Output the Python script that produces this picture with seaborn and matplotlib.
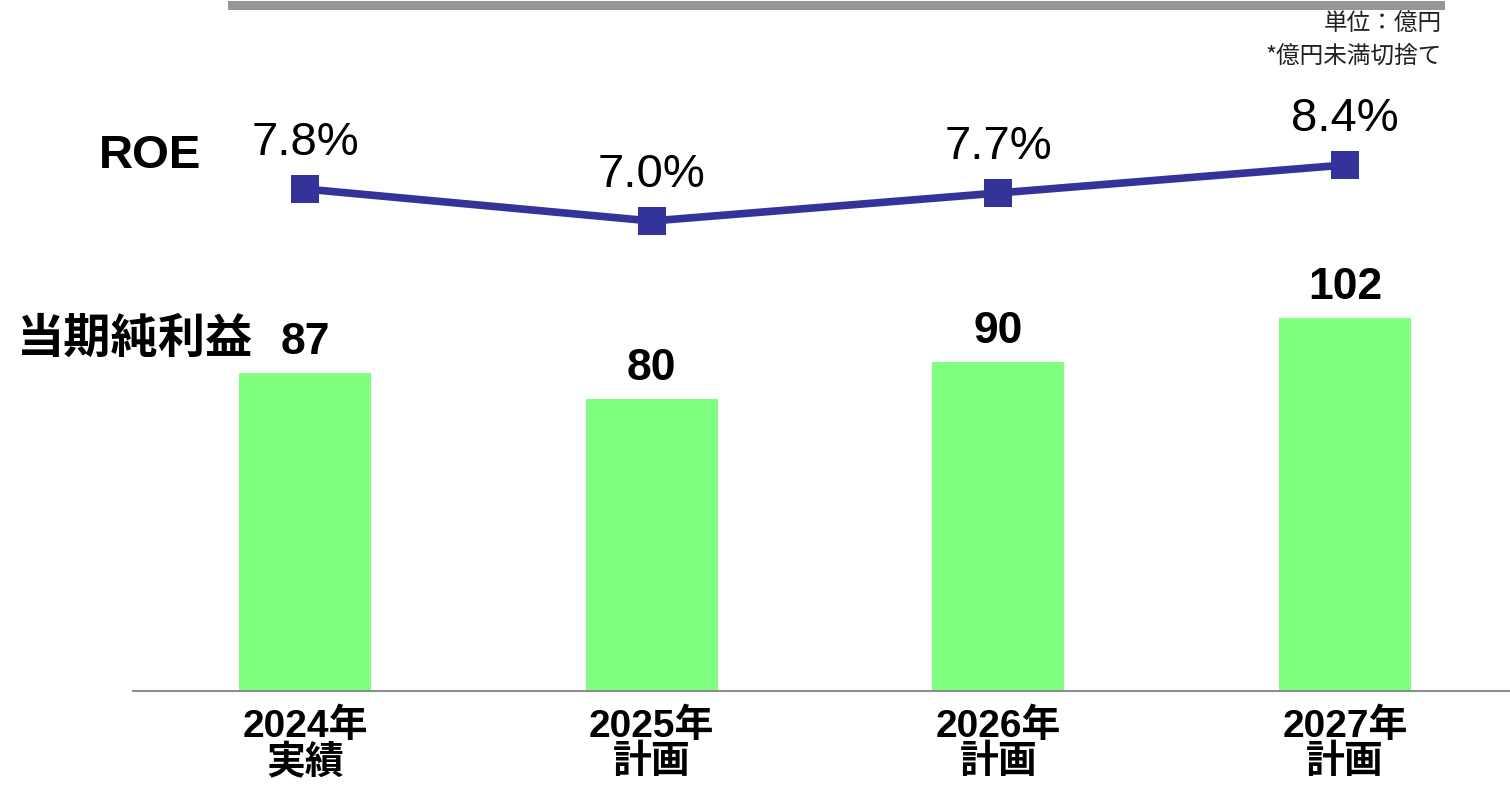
import matplotlib
matplotlib.use("Agg")
import matplotlib.pyplot as plt
from matplotlib.patches import Rectangle
import seaborn as sns

categories = ["2024年\n実績", "2025年\n計画", "2026年\n計画", "2027年\n計画"]
net_income = [87, 80, 90, 102]
roe = [7.8, 7.0, 7.7, 8.4]
roe_labels = ["7.8%", "7.0%", "7.7%", "8.4%"]

sns.set_theme(style="white")
FAM = ["Liberation Sans", "Noto Sans CJK JP", "DejaVu Sans"]
plt.rcParams["font.family"] = FAM
plt.rcParams["text.color"] = "black"
plt.rcParams["xtick.color"] = "black"

W, H = 1510, 787
fig = plt.figure(figsize=(W / 100, H / 100), dpi=100)
fig.patch.set_facecolor("white")

def rect(x0, y0, x1, y1):
    return [x0 / W, 1 - y1 / H, (x1 - x0) / W, (y1 - y0) / H]

ax = fig.add_axes(rect(133, 0, 1510, 691))
ax.set_facecolor("none")
sns.barplot(x=list(range(4)), y=net_income, color="#80FF80", saturation=1,
            width=0.381, ax=ax, edgecolor="none")
ax.set_xlim(-0.496, 3.476)
ax.set_ylim(0, 189.05)
for sp in ["top", "right", "left"]:
    ax.spines[sp].set_visible(False)
ax.spines["bottom"].set_color("#8c8c8c")
ax.spines["bottom"].set_linewidth(1.5)
ax.set_yticks([])
ax.set_xticks(range(4))
ax.set_xticklabels(categories, fontsize=28, fontweight="bold", linespacing=0.98,
                   color="black")
ax.tick_params(axis="x", length=0, pad=13)
ax.set_xlabel("")
ax.set_ylabel("")
for i, v in enumerate(net_income):
    ax.text(i, v + 5.2, str(v), ha="center", va="baseline", fontsize=32,
            fontweight="bold", color="black")

ax2 = ax.twinx()
sns.lineplot(x=list(range(4)), y=roe, ax=ax2, color="#333399", linewidth=5.5,
             marker="s", markersize=20, markeredgewidth=0, markerfacecolor="#333399")
ax2.set_ylim(-4.75, 12.525)
ax2.set_xlim(-0.496, 3.476)
ax2.axis("off")
for i, (v, lab) in enumerate(zip(roe, roe_labels)):
    ax2.text(i, v + 0.84, lab, ha="center", va="baseline", fontsize=34, color="black")

fig.text(150 / W, 1 - 168 / H, "ROE", ha="center", va="baseline", fontsize=34,
         fontweight="bold", family=FAM, color="black")
fig.text(253 / W, 1 - 339 / H, "当期純利益", ha="right", va="center", fontsize=34,
         fontweight="bold", family=["Noto Sans CJK JP"], color="black")

fig.text(1442 / W, 1 - 24 / H, "単位：億円", ha="right", va="center", fontsize=17,
         family=["Noto Sans CJK JP"], color="#222222")
fig.text(1442 / W, 1 - 57 / H, "*億円未満切捨て", ha="right", va="center", fontsize=17,
         family=["Noto Sans CJK JP"], color="#222222")

fig.add_artist(Rectangle((228 / W, 1 - 10 / H), (1445 - 228) / W, 9 / H,
                         transform=fig.transFigure, facecolor="#969696",
                         edgecolor="none"))

fig.savefig("out.png", dpi=100, facecolor="white")
